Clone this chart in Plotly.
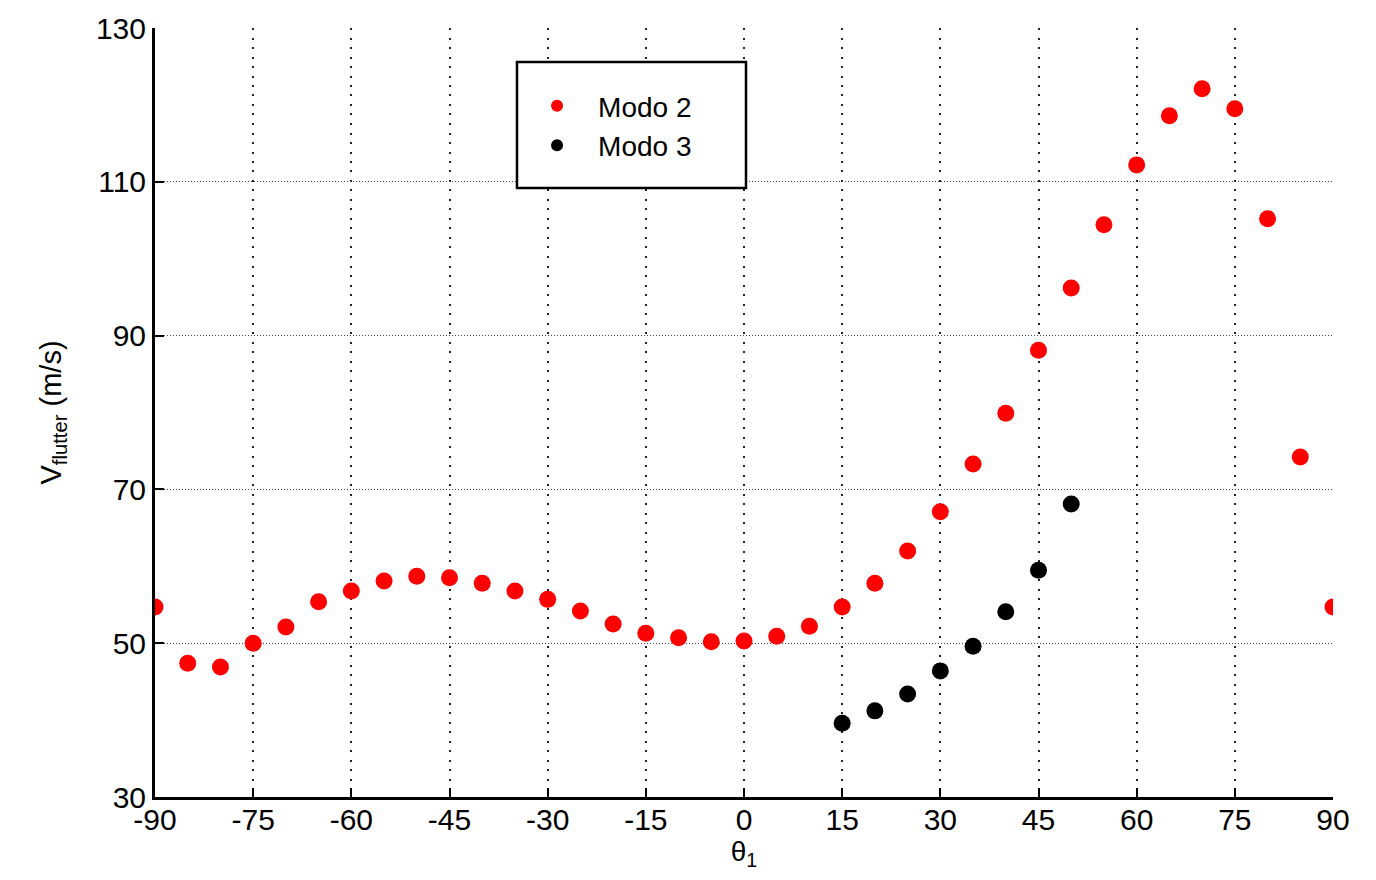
import plotly.graph_objects as go

theta_modo2 = [-90, -85, -80, -75, -70, -65, -60, -55, -50, -45, -40, -35, -30, -25, -20, -15, -10, -5,
               0, 5, 10, 15, 20, 25, 30, 35, 40, 45, 50, 55, 60, 65, 70, 75, 80, 85, 90]
v_modo2 = [54.7, 47.4, 46.9, 50.0, 52.1, 55.4, 56.8, 58.1, 58.7, 58.5, 57.8, 56.8, 55.7, 54.2, 52.5, 51.3, 50.7, 50.2,
           50.3, 50.9, 52.2, 54.7, 57.8, 62.0, 67.1, 73.3, 79.9, 88.1, 96.2, 104.4, 112.2, 118.6, 122.1, 119.5, 105.2, 74.2, 54.7]
theta_modo3 = [15, 20, 25, 30, 35, 40, 45, 50]
v_modo3 = [39.6, 41.2, 43.4, 46.4, 49.6, 54.1, 59.5, 68.1]

x_ticks = [-90, -75, -60, -45, -30, -15, 0, 15, 30, 45, 60, 75, 90]
y_ticks = [30, 50, 70, 90, 110, 130]

fig = go.Figure()
fig.add_trace(go.Scatter(x=theta_modo2, y=v_modo2, mode="markers", name="Modo 2",
                         marker=dict(color="#ff0000", size=17, line=dict(width=0))))
fig.add_trace(go.Scatter(x=theta_modo3, y=v_modo3, mode="markers", name="Modo 3",
                         marker=dict(color="#000000", size=17, line=dict(width=0))))

font_family = "Liberation Sans, Arial, sans-serif"
# legend frame (box drawn as a shape in paper coordinates)
fig.add_shape(type="rect", xref="paper", yref="paper", x0=0.3073, x1=0.5017, y0=0.7919, y1=0.9558,
              line=dict(color="black", width=2.5), fillcolor="white", layer="above")

fig.update_layout(
    width=1368, height=872,
    margin=dict(l=147, r=43, t=20, b=83),
    paper_bgcolor="white", plot_bgcolor="white",
    font=dict(family=font_family, color="black", size=28),
    showlegend=True,
    legend=dict(x=0.3065, y=0.931, xanchor="left", yanchor="top",
                borderwidth=0, bgcolor="rgba(0,0,0,0)",
                font=dict(size=28, family=font_family),
                itemsizing="constant", itemwidth=72),
    xaxis=dict(range=[-90, 90], tickvals=x_ticks, ticktext=[str(v) for v in x_ticks],
               showgrid=True, gridcolor="#222222", griddash="2px,7.5px", gridwidth=2,
               showline=True, linecolor="black", linewidth=3,
               ticks="inside", ticklen=9, tickwidth=2, tickcolor="black",
               zeroline=False, tickfont=dict(size=30), automargin=False, ticklabelstandoff=-6,
               title=dict(text="θ<sub>1</sub>", font=dict(size=28), standoff=2)),
    yaxis=dict(range=[30, 130], tickvals=y_ticks, ticktext=[str(v) for v in y_ticks],
               showgrid=True, gridcolor="#444444", griddash="1px,2px", gridwidth=1,
               showline=True, linecolor="black", linewidth=3,
               ticks="inside", ticklen=9, tickwidth=2, tickcolor="black",
               zeroline=False, tickfont=dict(size=30), automargin=False,
               title=dict(text="V<sub>flutter</sub> (m/s)", font=dict(size=29), standoff=26)),
)

fig.write_html("out.html")
